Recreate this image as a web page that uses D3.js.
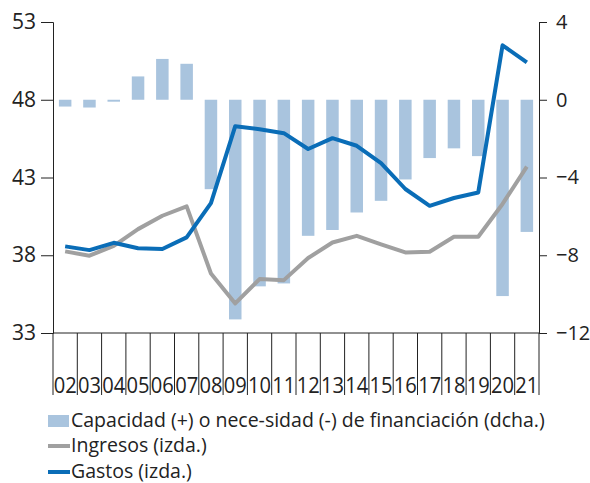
<!DOCTYPE html>
<html>
<head>
<meta charset="utf-8">
<script src="https://cdn.jsdelivr.net/npm/d3@7"></script>
<style>
  body { margin: 0; background: #fff; }
  text { font-family: "Open Sans", sans-serif; fill: #222; }
</style>
</head>
<body>
<div id="wrapper"></div>
<script>
const years = ["02","03","04","05","06","07","08","09","10","11","12","13","14","15","16","17","18","19","20","21"]
const capacidad = [-0.35, -0.4, -0.1, 1.2, 2.1, 1.85, -4.6, -11.3, -9.6, -9.45, -7.0, -6.7, -5.8, -5.2, -4.1, -3.0, -2.5, -2.9, -10.1, -6.8]
const ingresos = [38.25, 37.97, 38.6, 39.68, 40.54, 41.14, 36.83, 34.9, 36.47, 36.4, 37.82, 38.82, 39.25, 38.7, 38.18, 38.23, 39.19, 39.19, 41.3, 43.7]
const gastos = [38.57, 38.33, 38.8, 38.45, 38.4, 39.15, 41.35, 46.3, 46.1, 45.85, 44.83, 45.53, 45.04, 43.93, 42.26, 41.18, 41.68, 42.04, 51.5, 50.4]
const leftTicks = [33, 38, 43, 48, 53]
const rightTicks = [-12, -8, -4, 0, 4]

const width = 590
const height = 483
let dimensions = {
    width: width,
    height: height,
    margin: { top: 22, right: 51, bottom: 150, left: 53 },
}
dimensions.boundedWidth = dimensions.width - dimensions.margin.left - dimensions.margin.right
dimensions.boundedHeight = dimensions.height - dimensions.margin.top - dimensions.margin.bottom

const svg = d3.select("#wrapper").append("svg")
    .attr("width", dimensions.width)
    .attr("height", dimensions.height)
const bounds = svg.append("g")
    .attr("transform", `translate(${dimensions.margin.left},${dimensions.margin.top})`)

const xScaler = d3.scaleBand().domain(years).range([0, dimensions.boundedWidth])
const yLeft = d3.scaleLinear().domain([33, 53]).range([dimensions.boundedHeight, 0])
const yRight = d3.scaleLinear().domain([-12, 4]).range([dimensions.boundedHeight, 0])

// bars
const barW = 12.5
bounds.append("g").selectAll("rect").data(capacidad).enter().append("rect")
    .attr("x", (d, i) => xScaler(years[i]) + xScaler.bandwidth() / 2 - barW / 2)
    .attr("y", d => yRight(Math.max(0, d)))
    .attr("width", barW)
    .attr("height", d => Math.abs(yRight(d) - yRight(0)))
    .attr("fill", "#a9c4de")

// lines
const lineGen = d3.line()
    .x((d, i) => xScaler(years[i]) + xScaler.bandwidth() / 2)
    .y(d => yLeft(d))
bounds.append("path").datum(ingresos)
    .attr("d", lineGen).attr("fill", "none")
    .attr("stroke", "#a0a0a0").attr("stroke-width", 4).attr("stroke-linejoin", "round")
bounds.append("path").datum(gastos)
    .attr("d", lineGen).attr("fill", "none")
    .attr("stroke", "#0a6db7").attr("stroke-width", 4).attr("stroke-linejoin", "round")

// left axis
const leftAxis = bounds.append("g")
    .call(d3.axisLeft(yLeft).tickValues(leftTicks).tickSize(12).tickPadding(5))
leftAxis.select(".domain").attr("stroke", "#222")
leftAxis.selectAll(".tick line").attr("stroke", "#222")
leftAxis.selectAll("text").style("font-size", "21px").style("font-family", "Open Sans").attr("fill", "#222")

// right axis
const rightAxis = bounds.append("g")
    .attr("transform", `translate(${dimensions.boundedWidth},0)`)
    .call(d3.axisRight(yRight).tickValues(rightTicks).tickSize(8).tickPadding(9))
rightAxis.select(".domain").attr("stroke", "#222")
rightAxis.selectAll(".tick line").attr("stroke", "#222")
rightAxis.selectAll("text").style("font-size", "20px").style("font-family", "Open Sans").attr("fill", "#222")

// x axis: long separators between categories
const xAxis = bounds.append("g").attr("transform", `translate(0,${dimensions.boundedHeight})`)
xAxis.append("line").attr("x1", 0).attr("x2", dimensions.boundedWidth).attr("stroke", "#222")
const seps = years.map(y => xScaler(y)).concat([dimensions.boundedWidth])
xAxis.selectAll(".sep").data(seps).enter().append("line")
    .attr("x1", d => d).attr("x2", d => d)
    .attr("y1", 0).attr("y2", 62)
    .attr("stroke", "#222")
xAxis.selectAll(".lbl").data(years).enter().append("text")
    .attr("x", d => xScaler(d) + xScaler.bandwidth() / 2)
    .attr("y", 60)
    .attr("text-anchor", "middle")
    .attr("textLength", 23)
    .attr("lengthAdjust", "spacingAndGlyphs")
    .style("font-size", "21px")
    .text(d => d)

// legend
const legend = svg.append("g")
const items = [
    { label: "Capacidad (+) o nece-sidad (-) de financiación (dcha.)", type: "bar", color: "#a9c4de", y: 427 },
    { label: "Ingresos (izda.)", type: "line", color: "#a0a0a0", y: 452 },
    { label: "Gastos (izda.)", type: "line", color: "#0a6db7", y: 478 },
]
items.forEach(it => {
    if (it.type === "bar") {
        legend.append("rect").attr("x", 48).attr("y", it.y - 12).attr("width", 21).attr("height", 12).attr("fill", it.color)
    } else {
        legend.append("line").attr("x1", 48).attr("x2", 70).attr("y1", it.y - 6).attr("y2", it.y - 6)
            .attr("stroke", it.color).attr("stroke-width", 4)
    }
    legend.append("text").attr("x", 71).attr("y", it.y).style("font-size", "19.5px").text(it.label)
})
</script>
</body>
</html>
